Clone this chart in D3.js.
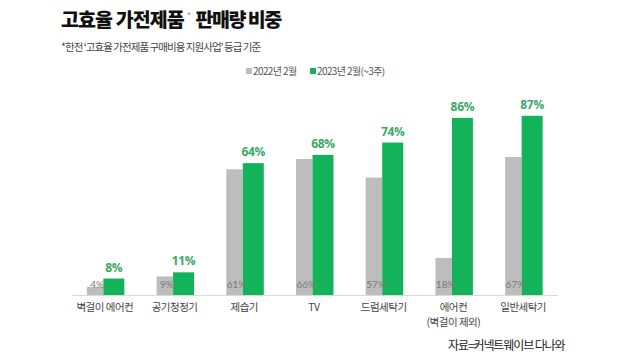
<!DOCTYPE html>
<html><head><meta charset="utf-8">
<script src="https://cdn.jsdelivr.net/npm/d3@7"></script>
<style>
body{margin:0;background:#fff;}
svg{display:block;font-family:"Noto Sans CJK KR","Noto Sans",sans-serif;}
</style></head>
<body><svg id="c" width="620" height="360"></svg>
<script>
const categories = ["벽걸이 에어컨","공기청정기","제습기","TV","드럼세탁기","에어컨\n(벽걸이 제외)","일반세탁기"];
const values2022 = [4, 9, 61, 66, 57, 18, 67];
const values2023 = [8, 11, 64, 68, 74, 86, 87];
const seriesNames = ["2022년 2월", "2023년 2월(~3주)"];

const svg = d3.select("#c");
const baseY = 295, left = 70, right = 558;
const x = d3.scaleBand().domain(categories).range([left, right]).paddingInner(0).paddingOuter(0);
const y = d3.scaleLinear().domain([0, 100]).range([baseY, baseY - 206]);
const barW = 16.5, barW2 = 21;

const title = svg.append("text").attr("x", 61).attr("y", 27).attr("font-size", 19.5).attr("font-weight", 900)
  .attr("fill", "#111");
title.append("tspan").attr("letter-spacing", -0.9).text("고효율 가전제품");
title.append("tspan").attr("font-size", 10).attr("font-weight", 400).attr("fill", "#999").attr("dy", -7).attr("dx", 3).text("*");
title.append("tspan").attr("dy", 7).attr("dx", 4).attr("letter-spacing", -1.5).text("판매량 비중");

svg.append("text").attr("x", 61).attr("y", 51).attr("font-size", 10.5).attr("fill", "#444")
  .attr("letter-spacing", -0.95)
  .text("*한전 ‘고효율 가전제품 구매비용 지원사업’ 등급 기준");

// legend
const lg = svg.append("g");
lg.append("rect").attr("x", 246).attr("y", 68).attr("width", 6).attr("height", 6).attr("fill", "#bdbdbd");
lg.append("text").attr("x", 253).attr("y", 75).attr("font-size", 10).attr("fill", "#555").attr("letter-spacing", -0.6).text(seriesNames[0]);
lg.append("rect").attr("x", 310).attr("y", 68).attr("width", 6).attr("height", 6).attr("fill", "#13b35a");
lg.append("text").attr("x", 317).attr("y", 75).attr("font-size", 10).attr("fill", "#555").attr("letter-spacing", -0.6).text(seriesNames[1]);

// axis line
svg.append("line").attr("x1", 72).attr("x2", right).attr("y1", baseY + 0.5).attr("y2", baseY + 0.5)
  .attr("stroke", "#d9d9d9").attr("stroke-width", 1);

const g = svg.append("g");
categories.forEach((c, i) => {
  const cx = x(c) + x.bandwidth() / 2;
  const gx = cx - barW - 1.5;
  const grx = cx - 1.5;
  g.append("rect").attr("x", gx).attr("y", y(values2022[i])).attr("width", barW)
    .attr("height", baseY - y(values2022[i])).attr("fill", "#bdbdbd");
  g.append("rect").attr("x", grx).attr("y", y(values2023[i])).attr("width", barW2)
    .attr("height", baseY - y(values2023[i])).attr("fill", "#13b35a");
  g.append("text").attr("x", gx + barW / 2 + 2).attr("y", 288).attr("text-anchor", "middle")
    .attr("font-size", 10).attr("fill", "#7a7a7a").attr("font-family", "Lato, 'Noto Sans', sans-serif")
    .text(values2022[i] + "%");
  g.append("text").attr("x", grx + barW2 / 2).attr("y", y(values2023[i]) - 7).attr("text-anchor", "middle")
    .attr("font-size", 12).attr("font-weight", 700).attr("fill", "#3aa866")
    .attr("font-family", "'Open Sans', 'Noto Sans', sans-serif").attr("letter-spacing", -0.3)
    .text(values2023[i] + "%");
  const lines = c.split("\n");
  lines.forEach((t, k) => {
    g.append("text").attr("x", cx).attr("y", 311 + k * 15).attr("text-anchor", "middle")
      .attr("font-size", 10.5).attr("fill", "#444").attr("letter-spacing", -0.5).text(t);
  });
});

svg.append("text").attr("x", 448).attr("y", 350).attr("font-size", 12).attr("fill", "#222")
  .attr("letter-spacing", -1.1).text("자료=커넥트웨이브 다나와");
</script></body></html>
